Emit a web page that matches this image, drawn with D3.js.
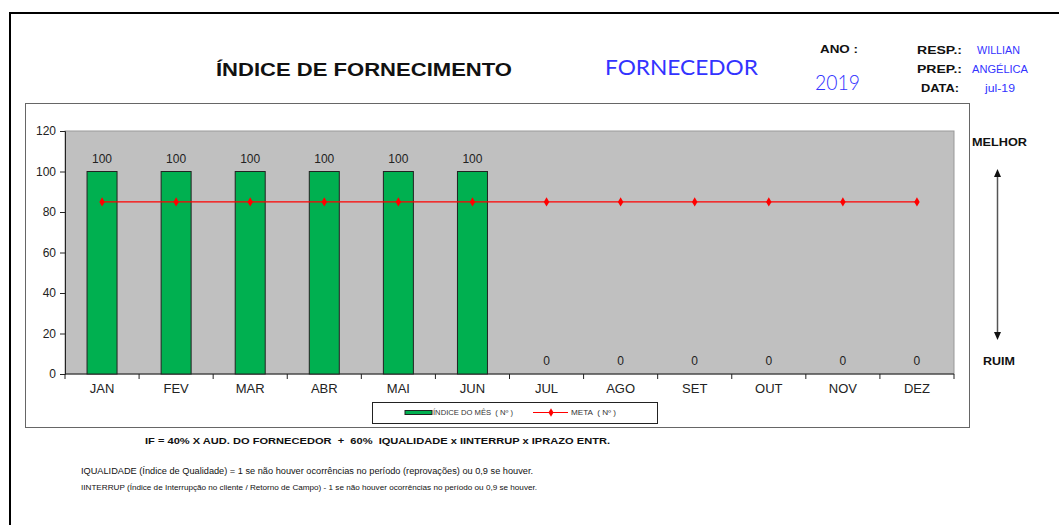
<!DOCTYPE html>
<html>
<head>
<meta charset="utf-8">
<script src="https://cdnjs.cloudflare.com/ajax/libs/d3/7.8.5/d3.min.js"></script>
<style>
    body { margin: 0; background: #fff; }
    svg text { font-family: Arial, 'Liberation Sans', sans-serif; }
</style>
</head>
<body>
<svg id="chart" width="1059" height="525"></svg>
<script>
// data
var meses = ['JAN', 'FEV', 'MAR', 'ABR', 'MAI', 'JUN', 'JUL', 'AGO', 'SET', 'OUT', 'NOV', 'DEZ'];
var indice = [100, 100, 100, 100, 100, 100, 0, 0, 0, 0, 0, 0];
var meta = [85, 85, 85, 85, 85, 85, 85, 85, 85, 85, 85, 85];
var yticks = [0, 20, 40, 60, 80, 100, 120];

var svg = d3.select('#chart');

// plot area
var pl = 65, pr = 954, pt = 131, pb = 374;

var xb = d3.scaleBand().domain(meses).range([pl, pr]);
var y = d3.scaleLinear().domain([0, 120]).range([pb, pt]);

// helper for stretched text (the original uses wide fonts)
function txt(x0, y0, s, size, len, opts) {
    opts = opts || {};
    var t = svg.append('text')
        .attr('x', x0).attr('y', y0)
        .attr('font-size', size)
        .attr('fill', opts.fill || '#111')
        .attr('font-weight', opts.bold ? 'bold' : null)
        .attr('xml:space', 'preserve')
        .text(s);
    if (len) t.attr('textLength', len).attr('lengthAdjust', 'spacingAndGlyphs');
    if (opts.family) t.style('font-family', opts.family);
    if (opts.weight) t.style('font-weight', opts.weight);
    return t;
}

// outer frame
svg.append('rect')
    .attr('x', 10).attr('y', 13)
    .attr('width', 1070).attr('height', 530)
    .attr('fill', 'none').attr('stroke', '#000').attr('stroke-width', 2);

// chart frame
svg.append('rect')
    .attr('x', 25.5).attr('y', 103.5)
    .attr('width', 944).attr('height', 324)
    .attr('fill', '#fff').attr('stroke', '#666').attr('stroke-width', 1);

svg.append('rect')
    .attr('x', pl).attr('y', pt)
    .attr('width', pr - pl).attr('height', pb - pt)
    .attr('fill', '#c0c0c0')
    .attr('stroke', '#999').attr('stroke-width', 1);

// y axis
var yAxis = svg.append('g')
    .attr('transform', 'translate(' + pl + ',0)')
    .call(d3.axisLeft(y).tickValues(yticks).tickSize(5).tickPadding(4));
yAxis.select('.domain').attr('stroke', '#222');
yAxis.selectAll('line').attr('stroke', '#222');
yAxis.selectAll('text').attr('font-size', 12).attr('fill', '#222')
    .style('font-family', 'Arial, Liberation Sans, sans-serif');

// x axis: ticks between the categories
var xAxis = svg.append('g')
    .attr('transform', 'translate(0,' + pb + ')');
xAxis.append('line')
    .attr('x1', pl).attr('x2', pr)
    .attr('stroke', '#222');
xAxis.selectAll('line.tk')
    .data(meses.concat(['end']))
    .join('line')
    .attr('class', 'tk')
    .attr('x1', (d, i) => i < meses.length ? xb(d) : pr)
    .attr('x2', (d, i) => i < meses.length ? xb(d) : pr)
    .attr('y1', 0).attr('y2', 5)
    .attr('stroke', '#222');
xAxis.selectAll('text')
    .data(meses)
    .join('text')
    .attr('x', d => xb(d) + xb.bandwidth() / 2)
    .attr('y', 19)
    .attr('text-anchor', 'middle')
    .attr('font-size', 13)
    .attr('fill', '#222')
    .text(d => d);

// bars
svg.selectAll('rect.bar')
    .data(indice)
    .join('rect')
    .attr('class', 'bar')
    .attr('x', (d, i) => xb(meses[i]) + xb.bandwidth() / 2 - 15)
    .attr('y', d => y(d))
    .attr('width', 30)
    .attr('height', d => pb - y(d))
    .attr('fill', '#00b050')
    .attr('stroke', '#222')
    .attr('stroke-width', d => d > 0 ? 1 : 0);

svg.selectAll('text.lbl')
    .data(indice)
    .join('text')
    .attr('class', 'lbl')
    .attr('x', (d, i) => xb(meses[i]) + xb.bandwidth() / 2)
    .attr('y', d => y(d) - 9)
    .attr('text-anchor', 'middle')
    .attr('font-size', 12)
    .attr('fill', '#222')
    .text(d => d);

// meta line
var line = d3.line()
    .x((d, i) => xb(meses[i]) + xb.bandwidth() / 2)
    .y(d => y(d));
svg.append('path')
    .datum(meta)
    .attr('d', line)
    .attr('fill', 'none')
    .attr('stroke', '#ff0000')
    .attr('stroke-width', 1.2);
svg.selectAll('path.mk')
    .data(meta)
    .join('path')
    .attr('class', 'mk')
    .attr('d', d3.symbol(d3.symbolDiamond, 26))
    .attr('transform', (d, i) => 'translate(' + (xb(meses[i]) + xb.bandwidth() / 2) + ',' + y(d) + ')')
    .attr('fill', '#ff0000');

// legend
var lg = svg.append('g');
lg.append('rect')
    .attr('x', 372.5).attr('y', 402.5)
    .attr('width', 285).attr('height', 21)
    .attr('fill', '#fff').attr('stroke', '#222');
lg.append('rect')
    .attr('x', 405).attr('y', 410.5)
    .attr('width', 27).attr('height', 4)
    .attr('fill', '#00b050').attr('stroke', '#222');
txt(433, 415, 'ÍNDICE DO MÊS  ( Nº )', 7, 80, {fill: '#333'});
lg.append('line')
    .attr('x1', 533).attr('x2', 568).attr('y1', 412.5).attr('y2', 412.5)
    .attr('stroke', '#ff0000');
lg.append('path')
    .attr('d', d3.symbol(d3.symbolDiamond, 22))
    .attr('transform', 'translate(551,412.5)')
    .attr('fill', '#ff0000');
txt(571, 415, 'META  ( Nº )', 7, 45, {fill: '#333'});

// header
txt(216, 76, 'ÍNDICE DE FORNECIMENTO', 19, 296, {bold: true});
txt(605, 75, 'FORNECEDOR', 21, 153, {fill: '#3333ff', family: 'Lato, sans-serif'});
txt(820, 53, 'ANO :', 11, 38, {bold: true});
txt(815, 90, '2019', 21, 45, {fill: '#3333ff', family: 'Lato, sans-serif', weight: 300});

var info = [['RESP.:', 'WILLIAN', 54, 917, 977, 43], ['PREP.:', 'ANGÉLICA', 73, 917, 972, 56], ['DATA:', 'jul-19', 92, 921, 985, 30]];
info.forEach(function (r) {
    txt(r[3], r[2], r[0], 11, r[0] === 'DATA:' ? 38 : 45, {bold: true});
    txt(r[4], r[2], r[1], 10, r[5], {fill: '#3333ff'});
});

// melhor / ruim
txt(972, 146, 'MELHOR', 11, 55, {bold: true});
txt(983, 365, 'RUIM', 11, 32, {bold: true});
svg.append('line')
    .attr('x1', 997.5).attr('x2', 997.5).attr('y1', 175).attr('y2', 333)
    .attr('stroke', '#555').attr('stroke-width', 1.5);
svg.append('path').attr('d', 'M997.5,169 L994,177 L1001,177 Z').attr('fill', '#111');
svg.append('path').attr('d', 'M997.5,340 L994,332 L1001,332 Z').attr('fill', '#111');

// formula / notes
txt(145, 444, 'IF = 40% X AUD. DO FORNECEDOR  +  60%  IQUALIDADE x IINTERRUP x IPRAZO ENTR.', 8.5, 465, {bold: true});
txt(81, 474, 'IQUALIDADE (Índice de Qualidade) = 1 se não houver ocorrências no período (reprovações) ou 0,9 se houver.', 8.5, 452);
txt(81, 490, 'IINTERRUP (Índice de Interrupção no cliente / Retorno de Campo) - 1 se não houver ocorrências no período ou 0,9 se houver.', 6.5, 456);
</script>
</body>
</html>
